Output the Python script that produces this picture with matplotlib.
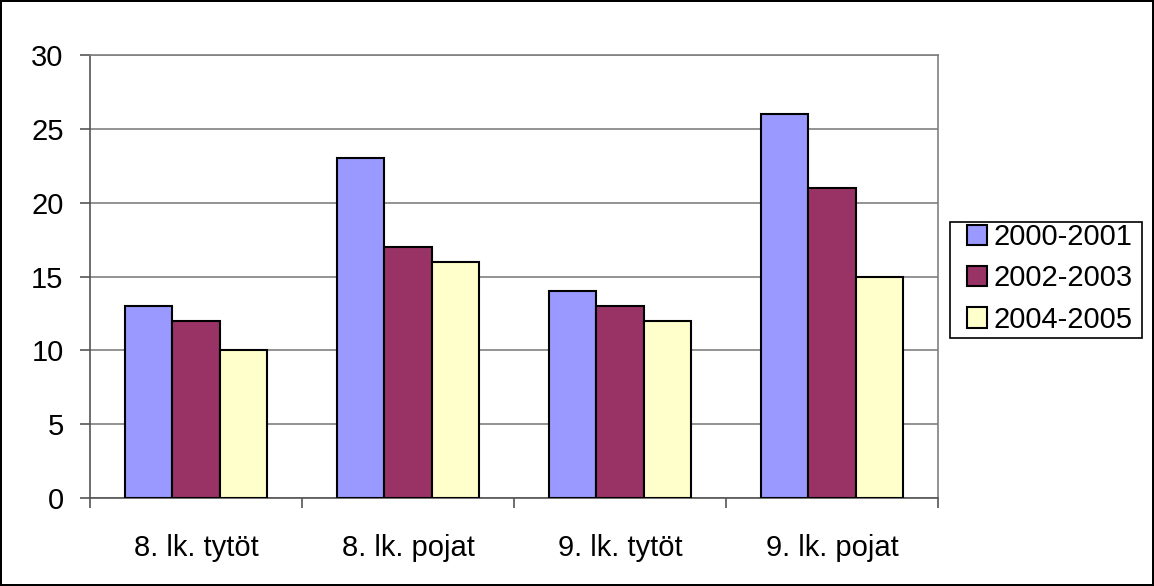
import matplotlib.pyplot as plt
from matplotlib.patches import Rectangle
import numpy as np

categories = ["8. lk. tytöt", "8. lk. pojat", "9. lk. tytöt", "9. lk. pojat"]
series_names = ["2000-2001", "2002-2003", "2004-2005"]
v_2000 = [13, 23, 14, 26]
v_2002 = [12, 17, 13, 21]
v_2004 = [10, 16, 12, 15]
colors = ["#9999FF", "#993366", "#FFFFCC"]

plt.rcParams["font.family"] = ["Liberation Sans", "DejaVu Sans"]

W, H = 1154, 586
fig = plt.figure(figsize=(W / 100, H / 100), dpi=100)
fig.patch.set_edgecolor("black")
fig.patch.set_linewidth(1.5)
ax = fig.add_axes([90 / W, 1 - 498 / H, 848 / W, 443 / H])

x = np.arange(len(categories))
w = 1 / 4.5
for i, vals in enumerate([v_2000, v_2002, v_2004]):
    ax.bar(x + (i - 1) * w, vals, width=w, color=colors[i], edgecolor="black",
           linewidth=1.5, label=series_names[i], zorder=3)

ax.set_xlim(-0.5, len(categories) - 0.5)
ax.set_ylim(0, 30)
ax.set_yticks(range(0, 31, 5))
ax.yaxis.grid(True, color="#808080", linewidth=1.2, zorder=0)
ax.set_xticks(x)
ax.set_xticklabels(categories)
ax.set_xticks(np.arange(len(categories) + 1) - 0.5, minor=True)
ax.tick_params(axis="x", which="major", length=0, pad=26, labelsize=21)
ax.tick_params(axis="x", which="minor", length=7, width=1.2, color="#555555")
ax.tick_params(axis="y", length=7, width=1.2, color="#555555", pad=12, labelsize=21)

for s in ["top", "right"]:
    ax.spines[s].set_color("#808080")
    ax.spines[s].set_linewidth(1.2)
for s in ["left", "bottom"]:
    ax.spines[s].set_color("#555555")
    ax.spines[s].set_linewidth(1.2)

# legend box drawn separately so its padding matches the Excel look
fig.patches.append(Rectangle((950 / W, 1 - 338 / H), 192 / W, 116 / H,
                             transform=fig.transFigure, facecolor="white",
                             edgecolor="black", linewidth=1.2, zorder=1))
fig.legend(loc="upper left", bbox_to_anchor=(967 / W, 1 - 223 / H),
           fontsize=21, handlelength=0.7, handleheight=0.7, handletextpad=0.2,
           labelspacing=0.46, borderpad=0, borderaxespad=0, frameon=False)

fig.savefig("out.png", dpi=100)
